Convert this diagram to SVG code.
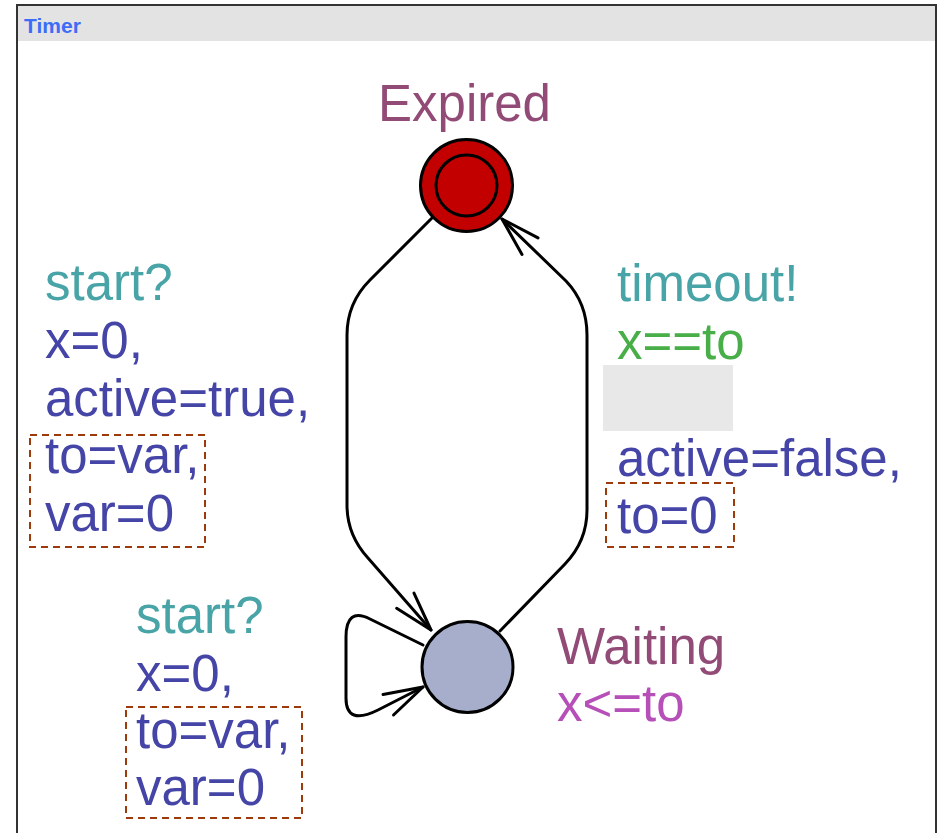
<svg xmlns="http://www.w3.org/2000/svg" width="938" height="833" viewBox="0 0 938 833">
<style>
.lbl{font-family:"Liberation Sans",Arial,sans-serif;font-size:51px}
.name{fill:#924a76}
.sync{fill:#48a4a6}
.assign{fill:#4545a8}
.guard{fill:#48ae48}
.inv{fill:#b64fb8}
.edge{fill:none;stroke:#000;stroke-width:3;stroke-linejoin:round;stroke-linecap:round}
.loc{stroke:#000;stroke-width:3}
.dash{fill:none;stroke:#9c3a0c;stroke-width:2;stroke-dasharray:7 5}
</style>
<defs>
<marker id="arr" markerUnits="userSpaceOnUse" markerWidth="50" markerHeight="50" refX="0" refY="0" viewBox="-45 -25 50 50" orient="auto" overflow="visible">
<path d="M-39,-11.5 L0,0 L-39,11.5" fill="none" stroke="#000" stroke-width="3" stroke-linecap="round" stroke-linejoin="round"/>
</marker>
</defs>
<rect x="0" y="0" width="938" height="833" fill="#fff"/>
<g id="frame">
<rect x="17" y="6" width="919" height="35" fill="#e3e3e3"/>
<path d="M17,833 L17,5 L936,5 L936,833" fill="none" stroke="#333" stroke-width="2"/>
<text x="24" y="33" font-family="'Liberation Sans',Arial,sans-serif" font-size="21" font-weight="bold" fill="#3d6cf6">Timer</text>
</g>
<g id="connectors">
<path class="edge" d="M432,218 L370,280 Q347,303 347,335 L347,505 Q347,535 368,558 L431,630" marker-end="url(#arr)"/>
<path class="edge" d="M500,631 L565,564 Q587,541 587,510 L587,335 Q587,303 566,281 L502,219" marker-end="url(#arr)"/>
<path class="edge" d="M423,645 L370,619 Q346,607 346,637 L346,698 Q346,726 378,710 L423,687" marker-end="url(#arr)"/>
</g>
<g id="expired">
<circle class="loc" cx="466.5" cy="185.5" r="46" fill="#c30000"/>
<circle class="loc" cx="466.5" cy="185.5" r="30.5" fill="#c30000"/>
<text class="lbl name" x="378" y="121">Expired</text>
</g>
<g id="waiting">
<circle class="loc" cx="467.5" cy="667" r="45.5" fill="#a6aecb"/>
<text class="lbl name" x="557" y="664">Waiting</text>
<text class="lbl inv" x="557" y="721">x&lt;=to</text>
</g>
<g id="label-expired-waiting">
<text class="lbl sync" x="45" y="300">start?</text>
<text class="lbl assign" x="45" y="358">x=0,</text>
<text class="lbl assign" x="45" y="416">active=true,</text>
<text class="lbl assign" x="45" y="473">to=var,</text>
<text class="lbl assign" x="45" y="531">var=0</text>
<rect class="dash" x="30" y="435" width="175" height="112"/>
</g>
<g id="label-waiting-expired">
<text class="lbl sync" x="617" y="301">timeout!</text>
<text class="lbl guard" x="617" y="359">x==to</text>
<rect x="603" y="365" width="130" height="66" fill="#e8e8e8"/>
<text class="lbl assign" x="617" y="476">active=false,</text>
<text class="lbl assign" x="617" y="533">to=0</text>
<rect class="dash" x="606" y="483" width="128" height="64"/>
</g>
<g id="label-waiting-loop">
<text class="lbl sync" x="136" y="633">start?</text>
<text class="lbl assign" x="136" y="691">x=0,</text>
<text class="lbl assign" x="136" y="748">to=var,</text>
<text class="lbl assign" x="136" y="805">var=0</text>
<rect class="dash" x="126" y="707" width="176" height="111"/>
</g>
</svg>
